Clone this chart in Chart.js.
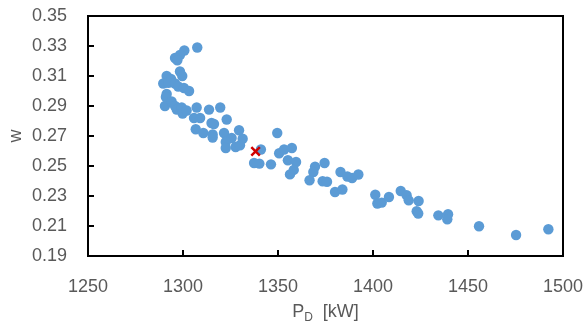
<!DOCTYPE html>
<html>
<head>
<meta charset="utf-8">
<script src="https://cdn.jsdelivr.net/npm/chart.js@4.4.1/dist/chart.umd.min.js"></script>
<style>
  html, body { margin: 0; padding: 0; background: #fff; }
  #wrap { width: 585px; height: 322px; }
</style>
</head>
<body>
<div id="wrap"><canvas id="wChart" width="585" height="322"></canvas></div>
<script>
// P_D [kW] of each run
const powerKW = [
  1307.5, 1300.7, 1298.4, 1295.8, 1297.0, 1298.4, 1299.6, 1291.4, 1293.7, 1289.6,
  1292.3, 1295.8, 1297.5, 1300.5, 1303.2, 1291.4, 1291.0, 1290.5, 1294.0, 1295.8,
  1296.7, 1299.3, 1299.8, 1301.9, 1307.2, 1313.7, 1319.6, 1305.8, 1309.0, 1315.0,
  1316.3, 1323.0, 1306.7, 1310.7, 1315.6, 1315.6, 1321.6, 1329.5, 1331.4, 1325.6,
  1349.6, 1322.5, 1322.5, 1327.7, 1330.0, 1341.0, 1337.4, 1340.2, 1346.3, 1350.6,
  1353.2, 1357.3, 1355.2, 1359.5, 1358.3, 1356.3, 1369.5, 1368.6, 1366.6, 1374.5,
  1373.5, 1375.8, 1380.0, 1383.9, 1382.9, 1386.5, 1389.0, 1392.3, 1401.2, 1402.3,
  1404.6, 1408.4, 1414.6, 1417.7, 1418.8, 1424.0, 1423.0, 1423.8, 1434.4, 1439.5,
  1439.1, 1455.8, 1475.3, 1492.3
];
// wake fraction w of each run
const wakeW = [
  0.329, 0.327, 0.324, 0.322, 0.3205, 0.313, 0.310, 0.310, 0.308, 0.305,
  0.3055, 0.305, 0.303, 0.302, 0.300, 0.298, 0.296, 0.290, 0.293, 0.290,
  0.2876, 0.289, 0.285, 0.287, 0.289, 0.2876, 0.289, 0.282, 0.282, 0.2787,
  0.278, 0.281, 0.2745, 0.272, 0.271, 0.269, 0.272, 0.2738, 0.2682, 0.2687,
  0.272, 0.266, 0.262, 0.2627, 0.2638, 0.261, 0.252, 0.2516, 0.2511, 0.2585,
  0.261, 0.262, 0.2538, 0.2527, 0.2474, 0.2444, 0.2496, 0.246, 0.2405, 0.252,
  0.2398, 0.2395, 0.2327, 0.2343, 0.246, 0.243, 0.242, 0.2443, 0.2308, 0.225,
  0.2256, 0.2293, 0.2333, 0.2305, 0.2271, 0.2267, 0.2198, 0.2183, 0.2171, 0.2178,
  0.2145, 0.2098, 0.204, 0.2078
];
// selected design point
const designKW = [1338.2];
const designW = [0.2597];

const xTicks = [1250, 1300, 1350, 1400, 1450, 1500];
const yTicks = [0.19, 0.21, 0.23, 0.25, 0.27, 0.29, 0.31, 0.33, 0.35];

const labelColor = '#595959';
const labelFont = { family: 'Liberation Sans', size: 18 };

const frameAndTitles = {
  id: 'frameAndTitles',
  afterDraw(chart) {
    const { ctx, chartArea: a, scales } = chart;
    ctx.save();
    ctx.strokeStyle = '#000';
    ctx.lineWidth = 2;
    ctx.strokeRect(a.left, a.top, a.right - a.left, a.bottom - a.top);
    // inner tick marks
    ctx.beginPath();
    xTicks.forEach(v => {
      const px = Math.round(scales.x.getPixelForValue(v));
      ctx.moveTo(px, a.bottom);
      ctx.lineTo(px, a.bottom - 6);
    });
    yTicks.forEach(v => {
      const py = Math.round(scales.y.getPixelForValue(v));
      ctx.moveTo(a.left, py);
      ctx.lineTo(a.left + 6, py);
    });
    ctx.stroke();

    // x title with subscript
    ctx.fillStyle = labelColor;
    ctx.textBaseline = 'alphabetic';
    const big = '18px "Liberation Sans"';
    const small = '12px "Liberation Sans"';
    ctx.font = big;
    const wP = ctx.measureText('P').width;
    const wRest = ctx.measureText('  [kW]').width;
    ctx.font = small;
    const wD = ctx.measureText('D').width;
    const cx = (a.left + a.right) / 2;
    let x = cx - (wP + wD + wRest) / 2;
    const base = 317;
    ctx.textAlign = 'left';
    ctx.font = big;
    ctx.fillText('P', x, base);
    x += wP;
    ctx.font = small;
    ctx.fillText('D', x, base + 4);
    x += wD;
    ctx.font = big;
    ctx.fillText('  [kW]', x, base);

    // y title
    ctx.translate(16, (a.top + a.bottom) / 2);
    ctx.rotate(-Math.PI / 2);
    ctx.textAlign = 'center';
    ctx.textBaseline = 'middle';
    ctx.fillText('w', 0, 0);
    ctx.restore();
  }
};

new Chart(document.getElementById('wChart'), {
  type: 'scatter',
  data: {
    datasets: [{
      label: 'Design',
      data: designKW.map((v, i) => ({ x: v, y: designW[i] })),
      pointStyle: 'crossRot',
      pointRadius: 6,
      borderColor: '#D00000',
      backgroundColor: '#D00000',
      pointBorderWidth: 2.5
    }, {
      label: 'w',
      data: powerKW.map((v, i) => ({ x: v, y: wakeW[i] })),
      pointRadius: 5.2,
      pointBorderWidth: 0,
      backgroundColor: '#5B9BD5',
      borderColor: '#5B9BD5'
    }]
  },
  options: {
    responsive: false,
    animation: false,
    events: [],
    layout: { padding: { top: 16, right: 22, left: 0, bottom: 0 } },
    plugins: {
      legend: { display: false },
      tooltip: { enabled: false }
    },
    scales: {
      x: {
        type: 'linear',
        min: 1250,
        max: 1500,
        afterBuildTicks: s => { s.ticks = xTicks.map(v => ({ value: v })); },
        afterFit: s => {
          s.height = 66;
          s.paddingLeft = 0; s.paddingRight = 0;
        },
        grid: { display: false, drawTicks: false },
        border: { display: false },
        ticks: {
          color: labelColor, font: labelFont, padding: 20, maxRotation: 0,
          callback: v => String(v)
        }
      },
      y: {
        type: 'linear',
        min: 0.19,
        max: 0.35,
        afterBuildTicks: s => { s.ticks = yTicks.map(v => ({ value: v })); },
        afterFit: s => {
          s.width = 88;
          s.paddingTop = 0; s.paddingBottom = 0;
        },
        grid: { display: false, drawTicks: false },
        border: { display: false },
        ticks: {
          color: labelColor, font: labelFont, padding: 21,
          callback: v => v.toFixed(2)
        }
      }
    }
  },
  plugins: [frameAndTitles]
});
</script>
</body>
</html>
